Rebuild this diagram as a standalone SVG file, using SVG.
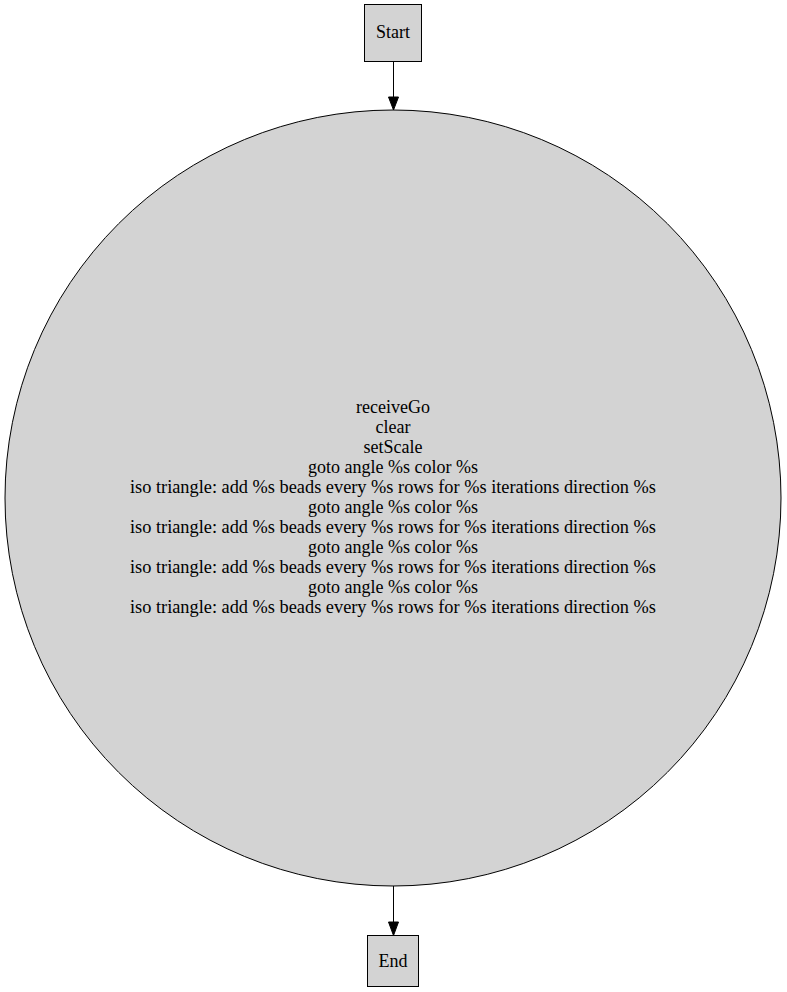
<svg xmlns="http://www.w3.org/2000/svg" width="787" height="992" viewBox="0 0 787 992">
<defs>
<style>
.n{fill:#d3d3d3;stroke:#000;stroke-width:1}
text{font-family:"Liberation Serif","Times New Roman",serif;font-size:18px;text-anchor:middle;fill:#000}
.e{stroke:#000;stroke-width:1;fill:none}
</style>
</defs>
<rect width="787" height="992" fill="#fff"/>
<g id="edges">
<path class="e" d="M393.5,61.5V98"/>
<path d="M388.5,97L393.5,110L398.5,97Z" fill="#000" stroke="#000"/>
<path class="e" d="M393.5,886V923"/>
<path d="M388.5,922L393.5,935.5L398.5,922Z" fill="#000" stroke="#000"/>
</g>
<g id="start">
<rect class="n" x="364.5" y="4.5" width="57" height="57"/>
<text x="393" y="38">Start</text>
</g>
<g id="main">
<circle class="n" cx="393" cy="498" r="388"/>
<text x="393" y="413">receiveGo</text>
<text x="393" y="433">clear</text>
<text x="393" y="453">setScale</text>
<text x="393" y="473">goto angle %s color %s</text>
<text x="393" y="493" textLength="526" lengthAdjust="spacingAndGlyphs">iso triangle: add %s beads every %s rows for %s iterations direction %s</text>
<text x="393" y="513">goto angle %s color %s</text>
<text x="393" y="533" textLength="526" lengthAdjust="spacingAndGlyphs">iso triangle: add %s beads every %s rows for %s iterations direction %s</text>
<text x="393" y="553">goto angle %s color %s</text>
<text x="393" y="573" textLength="526" lengthAdjust="spacingAndGlyphs">iso triangle: add %s beads every %s rows for %s iterations direction %s</text>
<text x="393" y="593">goto angle %s color %s</text>
<text x="393" y="613" textLength="526" lengthAdjust="spacingAndGlyphs">iso triangle: add %s beads every %s rows for %s iterations direction %s</text>
</g>
<g id="end">
<rect class="n" x="367.5" y="935.5" width="51" height="51"/>
<text x="393" y="967">End</text>
</g>
</svg>
